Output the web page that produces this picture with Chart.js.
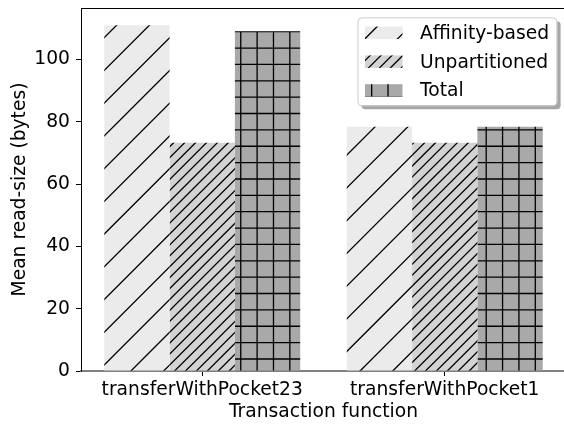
<!DOCTYPE html>
<html>
<head>
<meta charset="utf-8">
<style>
  html, body { margin: 0; padding: 0; background: #fff; overflow: hidden; }
  #wrap { width: 570px; height: 424px; }
</style>
<script src="https://cdn.jsdelivr.net/npm/chart.js@4/dist/chart.umd.min.js"></script>
</head>
<body>
<div id="wrap"><canvas id="c" width="570" height="424"></canvas></div>
<script>
// Mean read size per transaction function, by partitioning scheme
const categories = ['transferWithPocket23', 'transferWithPocket1'];
const seriesNames = ['Affinity-based', 'Unpartitioned', 'Total'];
const affinityBased = [111.0, 78.4];
const unpartitioned = [73.3, 73.3];
const total = [109.1, 78.4];
const yTicks = [0, 20, 40, 60, 80, 100];
const yMax = 111.0 * 1.05;

const FONT = "'DejaVu Sans', 'Liberation Sans', sans-serif";
const FS = 18.7;

// Hatch fills anchored to the canvas origin. The tile holds a whole number
// of periods (22 grid cells), so it repeats seamlessly without rescaling.
const TILE = 360;
const PERIOD = TILE / 22;
const HATCH_LW = 1.3;

function hatchPattern(kind, fill, phaseA, phaseB) {
  const c = document.createElement('canvas');
  c.width = TILE; c.height = TILE;
  const g = c.getContext('2d');
  g.fillStyle = fill;
  g.fillRect(0, 0, TILE, TILE);
  g.strokeStyle = '#000';
  g.lineWidth = HATCH_LW;
  g.beginPath();
  if (kind === '+') {
    for (let k = -1; k <= 23; k++) {
      const px = phaseA + k * PERIOD;
      const py = phaseB + k * PERIOD;
      g.moveTo(px, -2); g.lineTo(px, TILE + 2);
      g.moveTo(-2, py); g.lineTo(TILE + 2, py);
    }
  } else {
    const step = 2 * PERIOD / kind.length;
    const n = Math.ceil(2 * TILE / step) + 2;
    for (let k = -2; k <= n; k++) {
      const cc = phaseA + k * step;      // line x + y = cc
      g.moveTo(cc + 2, -2); g.lineTo(cc - TILE - 2, TILE + 2);
    }
  }
  g.stroke();
  return g.createPattern(c, 'repeat');
}

const ctx0 = document.getElementById('c').getContext('2d');
const fills = [
  hatchPattern('/', '#ebebeb', 11, 0),
  hatchPattern('///', '#d3d3d3', 11, 0),
  hatchPattern('+', '#a9a9a9', 11.66, 15.34)
];

// Top spine and a boxed legend with a drop shadow
const framePlugin = {
  id: 'frame',
  afterDraw(chart) {
    const { ctx, chartArea: ca } = chart;
    ctx.save();
    ctx.strokeStyle = '#000';
    ctx.lineWidth = 1;
    ctx.beginPath();
    const ty = Math.round(ca.top) + 0.5;
    ctx.moveTo(ca.left, ty); ctx.lineTo(ca.right, ty);
    ctx.moveTo(Math.round(ca.right) + 0.5, ca.top); ctx.lineTo(Math.round(ca.right) + 0.5, ca.bottom);
    ctx.stroke();

    // legend
    const right = ca.right - 0.5 * FS;
    const top = ca.top + 0.5 * FS;
    const left = 357.5, w = right - left, h = 88;
    const rr = (x, y, ww, hh, r) => {
      ctx.beginPath();
      ctx.moveTo(x + r, y);
      ctx.lineTo(x + ww - r, y); ctx.arcTo(x + ww, y, x + ww, y + r, r);
      ctx.lineTo(x + ww, y + hh - r); ctx.arcTo(x + ww, y + hh, x + ww - r, y + hh, r);
      ctx.lineTo(x + r, y + hh); ctx.arcTo(x, y + hh, x, y + hh - r, r);
      ctx.lineTo(x, y + r); ctx.arcTo(x, y, x + r, y, r);
      ctx.closePath();
    };
    ctx.fillStyle = 'rgba(0,0,0,0.35)';
    rr(left + 4, top + 4, w, h, 4); ctx.fill();
    ctx.fillStyle = '#fff';
    rr(left, top, w, h, 4); ctx.fill();
    ctx.strokeStyle = '#cccccc';
    ctx.lineWidth = 1;
    rr(left + 0.5, top + 0.5, w, h, 4); ctx.stroke();

    ctx.font = FS + 'px ' + FONT;
    ctx.textBaseline = 'middle';
    ctx.textAlign = 'left';
    chart.data.datasets.forEach((ds, i) => {
      const cy = top + 15.5 + i * 28.8;
      ctx.fillStyle = ds.backgroundColor;
      ctx.fillRect(left + 7.5, cy - 6.25, 37.5, 12.5);
      ctx.fillStyle = '#000';
      ctx.fillText(ds.label, left + 62.5, cy + 1);
    });
    ctx.restore();
  }
};

const seriesValues = [affinityBased, unpartitioned, total];

new Chart(ctx0, {
  type: 'bar',
  data: {
    labels: categories,
    datasets: seriesNames.map((name, i) => ({
      label: name,
      data: seriesValues[i],
      backgroundColor: fills[i],
      borderWidth: 0,
      barPercentage: 1.0,
      categoryPercentage: 0.808
    }))
  },
  options: {
    responsive: false,
    devicePixelRatio: 1,
    animation: false,
    layout: { padding: { left: 0, right: 4, top: 8, bottom: 0 } },
    plugins: { legend: { display: false }, tooltip: { enabled: false } },
    scales: {
      x: {
        type: 'category',
        offset: true,
        grid: { display: true, offset: false, drawOnChartArea: false, drawTicks: true, tickLength: 5, color: '#000', lineWidth: 1 },
        border: { display: true, color: '#808080', width: 2 },
        ticks: { color: '#000', font: { family: FONT, size: FS }, padding: 3, maxRotation: 0, autoSkip: false },
        title: { display: true, text: 'Transaction function', color: '#000', font: { family: FONT, size: FS }, padding: { top: 0, bottom: 1 } },
        afterFit(s) { s.height = 53; s.paddingLeft = 0; s.paddingRight = 0; }
      },
      y: {
        min: 0,
        max: yMax,
        afterBuildTicks(s) { s.ticks = yTicks.map(v => ({ value: v })); },
        ticks: { color: '#000', font: { family: FONT, size: FS }, padding: 6 },
        grid: { display: true, drawOnChartArea: false, drawTicks: true, tickLength: 5, color: '#000', lineWidth: 1 },
        border: { display: true, color: '#000', width: 1 },
        title: { display: true, text: 'Mean read-size (bytes)', color: '#000', font: { family: FONT, size: FS }, padding: { top: 9, bottom: 0 } },
        afterFit(s) { s.width = 81; s.paddingTop = 0; s.paddingBottom = 0; }
      }
    }
  },
  plugins: [framePlugin]
});
</script>
</body>
</html>
